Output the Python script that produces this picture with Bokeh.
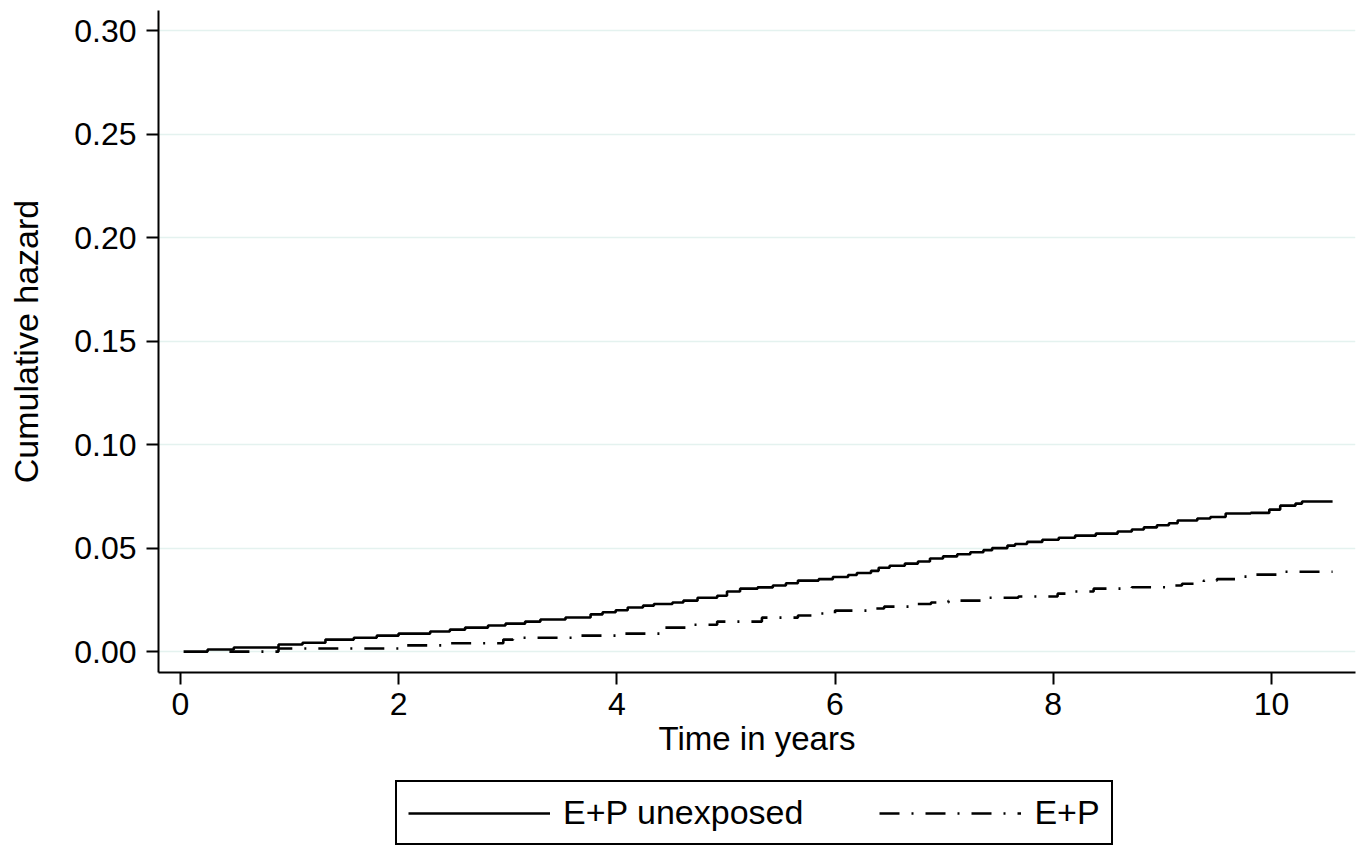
from bokeh.plotting import figure
from bokeh.layouts import column
from bokeh.models import Legend, LegendItem, ColumnDataSource, PrintfTickFormatter, FixedTicker
from bokeh.embed import file_html
from bokeh.resources import INLINE

# Nelson-Aalen cumulative hazard, step times (years) and values
unexp_time = [0.03, 0.25, 0.49, 0.90, 1.12, 1.33, 1.59, 1.80, 2.00, 2.29, 2.47, 2.61,
              2.82, 2.98, 3.16, 3.30, 3.53, 3.76, 3.87, 3.99, 4.10, 4.24, 4.34, 4.51,
              4.61, 4.74, 4.92, 5.01, 5.13, 5.29, 5.43, 5.55, 5.66, 5.85, 5.98, 6.12,
              6.20, 6.33, 6.40, 6.50, 6.64, 6.76, 6.87, 6.99, 7.12, 7.24, 7.36, 7.44,
              7.58, 7.65, 7.76, 7.90, 8.05, 8.20, 8.39, 8.59, 8.72, 8.83, 8.95, 9.06,
              9.14, 9.32, 9.44, 9.58, 9.81, 9.98, 10.08, 10.22, 10.28, 10.56]
unexp_haz = [0.0, 0.001, 0.002, 0.0034, 0.0043, 0.0058, 0.0067, 0.0077, 0.0087, 0.0097,
             0.0106, 0.0116, 0.0126, 0.0135, 0.0145, 0.0155, 0.0165, 0.018, 0.019, 0.020,
             0.0213, 0.0222, 0.023, 0.0237, 0.0246, 0.026, 0.027, 0.029, 0.0304, 0.031,
             0.0319, 0.033, 0.0343, 0.035, 0.036, 0.037, 0.038, 0.039, 0.0405, 0.0415,
             0.0425, 0.0435, 0.045, 0.046, 0.047, 0.048, 0.049, 0.050, 0.0512, 0.052,
             0.053, 0.054, 0.055, 0.056, 0.057, 0.058, 0.059, 0.060, 0.061, 0.062,
             0.0633, 0.0643, 0.065, 0.0667, 0.067, 0.0686, 0.0705, 0.0715, 0.0725, 0.0725]

ep_time = [0.45, 0.90, 2.05, 2.40, 2.96, 3.05, 3.65, 4.03, 4.40, 4.66, 4.92, 5.33, 5.66,
           5.80, 6.00, 6.30, 6.45, 6.70, 6.88, 7.04, 7.35, 7.68, 8.04, 8.15, 8.37, 8.72,
           9.07, 9.18, 9.38, 9.50, 9.74, 9.85, 10.05, 10.56]
ep_haz = [0.0, 0.0015, 0.003, 0.004, 0.0058, 0.0067, 0.0077, 0.0087, 0.0116, 0.013,
          0.0145, 0.0164, 0.0174, 0.0184, 0.0198, 0.0208, 0.0217, 0.023, 0.0237, 0.0246,
          0.026, 0.0266, 0.028, 0.029, 0.0304, 0.0311, 0.0319, 0.0328, 0.0343, 0.035,
          0.0362, 0.0372, 0.0386, 0.0386]

series_labels = ["E+P unexposed", "E+P"]
x_ticks = [0, 2, 4, 6, 8, 10]
y_ticks = [0.0, 0.05, 0.10, 0.15, 0.20, 0.25, 0.30]

FONT = "Liberation Sans"
SOLID = dict(line_color="black", line_width=2.6)
DASHED = dict(line_color="black", line_width=2.6, line_dash="20 12 2 12")

p = figure(width=1366, height=770, output_backend="svg", toolbar_location=None,
           x_range=(-0.2, 10.77), y_range=(-0.0101, 0.3097),
           min_border_left=158, min_border_right=11, min_border_top=10,
           min_border_bottom=98)
p.outline_line_color = None
p.background_fill_color = "white"
p.border_fill_color = "white"

p.step(x="t", y="h", source=ColumnDataSource(dict(t=unexp_time, h=unexp_haz)),
       mode="after", **SOLID)
p.step(x="t", y="h", source=ColumnDataSource(dict(t=ep_time, h=ep_haz)),
       mode="after", **DASHED)

p.xgrid.grid_line_color = None
p.ygrid.grid_line_color = "#e4f2ef"
p.ygrid.grid_line_width = 1.5

p.xaxis.ticker = FixedTicker(ticks=x_ticks)
p.yaxis.ticker = FixedTicker(ticks=y_ticks)
p.yaxis.formatter = PrintfTickFormatter(format="%.2f")

for ax in (p.xaxis, p.yaxis):
    ax.axis_line_width = 2
    ax.axis_line_color = "black"
    ax.major_tick_line_width = 2
    ax.major_tick_line_color = "black"
    ax.major_tick_out = 12
    ax.major_tick_in = 0
    ax.minor_tick_line_color = None
    ax.major_label_text_font = FONT
    ax.major_label_text_font_size = "32px"
    ax.major_label_text_color = "black"
    ax.axis_label_text_font = FONT
    ax.axis_label_text_font_style = "normal"
    ax.axis_label_text_color = "black"

p.xaxis.axis_label = "Time in years"
p.xaxis.axis_label_text_font_size = "33px"
p.xaxis.major_label_standoff = 8
p.xaxis.axis_label_standoff = 2
p.yaxis.axis_label = "Cumulative hazard"
p.yaxis.axis_label_text_font_size = "34px"
p.yaxis.major_label_standoff = 10
p.yaxis.axis_label_standoff = 26

# Legend strip under the chart; its key renderers reuse the series' line styles
# and hold the series' last point, which falls outside this strip's (0, 1) ranges
leg = figure(width=1366, height=80, output_backend="svg", toolbar_location=None,
             x_range=(0, 1), y_range=(0, 1),
             min_border_left=0, min_border_right=0, min_border_top=0, min_border_bottom=0)
leg.axis.visible = False
leg.grid.grid_line_color = None
leg.outline_line_color = None
lr1 = leg.line(x=unexp_time[-2:], y=[-1, -1], **SOLID)
lr2 = leg.line(x=ep_time[-2:], y=[-1, -1], **DASHED)

legend = Legend(items=[LegendItem(label=series_labels[0], renderers=[lr1]),
                       LegendItem(label=series_labels[1], renderers=[lr2])],
                orientation="horizontal", location=(237, 5))
legend.label_text_font = FONT
legend.label_text_font_size = "34px"
legend.label_text_color = "black"
legend.glyph_width = 142
legend.label_standoff = 13
legend.spacing = 76
legend.padding = 11
legend.margin = 0
legend.border_line_color = "black"
legend.border_line_width = 2
legend.border_line_alpha = 1
legend.background_fill_color = "white"
legend.background_fill_alpha = 1
leg.add_layout(legend, "center")

open("out.html", "w").write(file_html(column(p, leg, spacing=0), INLINE))
